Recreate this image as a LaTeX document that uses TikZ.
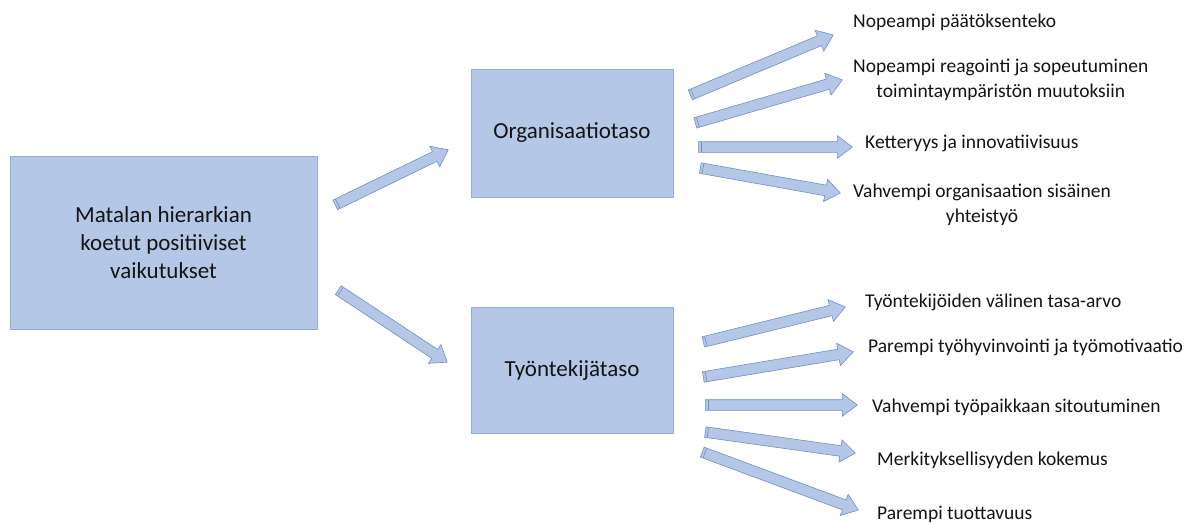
\documentclass[tikz,border=0pt]{standalone}
\usepackage{fontspec}
\setmainfont{Carlito}
\usetikzlibrary{shapes.arrows,calc}

\definecolor{boxfill}{RGB}{180,199,231}
\definecolor{boxline}{RGB}{143,170,220}
\definecolor{arrowline}{RGB}{112,142,202}
\definecolor{textdark}{RGB}{20,20,20}

\tikzset{
  levelbox/.style={rectangle,fill=boxfill,draw=boxline,line width=0.8pt,inner sep=0pt,
    text=textdark,font=\fontsize{23}{28}\selectfont,align=center},
  effect/.style={anchor=west,inner sep=0pt,text=textdark,font=\fontsize{19.5}{25}\selectfont,align=center},
  barrow/.style={single arrow,fill=boxfill,draw=arrowline,line width=0.6pt,
    inner xsep=0pt,inner ysep=5pt,single arrow head extend=6pt,single arrow tip angle=74,
    single arrow head indent=0pt},
  barrowedge/.style={draw=arrowline,line width=0.6pt}
}

% block arrow from tail coordinate to tip coordinate
\newcommand\blockarrow[3]{%
  \path let \p1=($(#3)-(#2)$), \n1={veclen(\x1,\y1)}, \n2={atan2(\y1,\x1)} in
    node[barrow,minimum height=\n1,rotate=\n2,anchor=tail] (#1) at (#2) {};
  \draw[barrowedge] let \p1=($(#3)-(#2)$), \n2={atan2(\y1,\x1)} in
    ($(#2)!3pt!(#3)$) ++(\n2+90:5pt) -- ++(\n2-90:10pt);
}

\begin{document}
\begin{tikzpicture}[x=1pt,y=-1pt]
\path[use as bounding box] (0,0) rectangle (1193,523);
\fill[white] (0,0) rectangle (1193,523);

% boxes
\node[levelbox,minimum width=307pt,minimum height=173pt] (main) at (163.5,242.5)
  {\raisebox{-2pt}{\parbox{250pt}{\centering Matalan hierarkian\\koetut positiiviset\\vaikutukset}}};
\node[levelbox,minimum width=202pt,minimum height=128pt] (org) at (572,133) {\raisebox{-4pt}{Organisaatiotaso}};
\node[levelbox,minimum width=202pt,minimum height=126pt] (emp) at (572,370) {\raisebox{-7pt}{Työntekijätaso}};

% effects
\node[effect] (org1) at (853,22) {Nopeampi päätöksenteko};
\node[effect] (org2) at (853,80) {Nopeampi reagointi ja sopeutuminen\\toimintaympäristön muutoksiin};
\node[effect] (org3) at (865,143) {Ketteryys ja innovatiivisuus};
\node[effect] (org4) at (853,205) {Vahvempi organisaation sisäinen\\yhteistyö};
\node[effect] (emp1) at (865,302) {Työntekijöiden välinen tasa-arvo};
\node[effect] (emp2) at (868,347) {Parempi työhyvinvointi ja työmotivaatio};
\node[effect] (emp3) at (872,407) {Vahvempi työpaikkaan sitoutuminen};
\node[effect] (emp4) at (877,460) {Merkityksellisyyden kokemus};
\node[effect] (emp5) at (877,514) {Parempi tuottavuus};

% arrows
\foreach \name/\tail/\tip in {
    a-org/{335,205}/{448,150}, a-emp/{338,290}/{447,362},
    a-org1/{690,95}/{833,35}, a-org2/{695,123}/{842,80},
    a-org3/{698,147}/{852,147}, a-org4/{700,168}/{840,193},
    a-emp1/{703,342}/{845,307}, a-emp2/{703,377}/{853,352},
    a-emp3/{705,405}/{857,405}, a-emp4/{705,432}/{855,453},
    a-emp5/{702,452}/{858,510}} {
  \coordinate (\name-tail) at (\tail);
  \coordinate (\name-tip) at (\tip);
  \blockarrow{\name}{\name-tail}{\name-tip}
}
\end{tikzpicture}
\end{document}
